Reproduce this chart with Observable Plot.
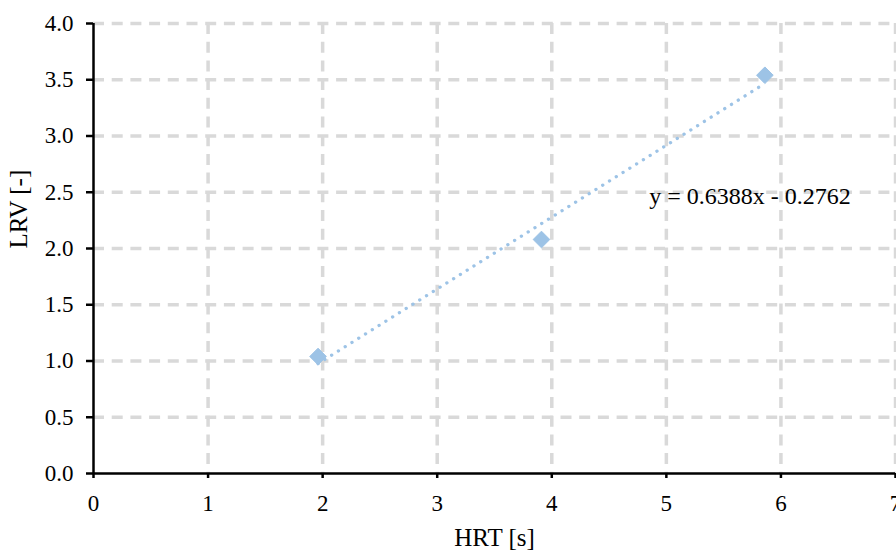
<!DOCTYPE html>
<html>
<head>
<meta charset="utf-8">
<script src="https://cdn.jsdelivr.net/npm/d3@7"></script>
<script src="https://cdn.jsdelivr.net/npm/@observablehq/plot@0.6"></script>
<style>
  html, body { margin: 0; padding: 0; background: #fff; }
  svg { display: block; }
  #chart svg, #chart svg text { font-family: "Liberation Serif", "Times New Roman", serif !important; }
</style>
</head>
<body>
<div id="chart"></div>
<script>
// Data
const hrt = [1.96, 3.91, 5.86];        // HRT [s]
const lrv = [1.04, 2.08, 3.54];        // LRV [-]
const xTicks = [0, 1, 2, 3, 4, 5, 6, 7];
const yTicks = [0, 0.5, 1, 1.5, 2, 2.5, 3, 3.5, 4];
const slope = 0.6388;
const intercept = -0.2762;
const equationLabel = ["y = 0.6388x - 0.2762"];
const xLabel = ["HRT [s]"];
const yLabel = ["LRV [-]"];

const points = hrt.map((x, i) => ({x, y: lrv[i]}));
const xMin = d3.min(hrt), xMax = d3.max(hrt);
const trend = [xMin, xMax].map(x => ({x, y: slope * x + intercept}));

const font = "Liberation Serif, Times New Roman, serif";
const blue = "#9dc3e6";

const chart = Plot.plot({
  width: 896,
  height: 554,
  marginLeft: 93,
  marginRight: 1,
  marginTop: 23,
  marginBottom: 81,
  style: "font-family: 'Liberation Serif', serif; font-size: 23px; color: #000; background: #fff;",
  x: {domain: [0, 7], ticks: xTicks},
  y: {domain: [0, 4], ticks: yTicks},
  marks: [
    Plot.gridX(xTicks.filter(d => d > 0), {stroke: "#d9d9d9", strokeOpacity: 1, strokeWidth: 3.5, strokeDasharray: "11,7.7"}),
    Plot.gridY(yTicks.filter(d => d > 0), {stroke: "#d9d9d9", strokeOpacity: 1, strokeWidth: 3.5, strokeDasharray: "11,7.7"}),
    Plot.line(trend, {x: "x", y: "y", stroke: blue, strokeWidth: 3.3, strokeDasharray: "0.1,7.9", strokeLinecap: "round"}),
    Plot.dot(points, {x: "x", y: "y", symbol: "diamond2", r: 7.5, fill: blue, stroke: blue, strokeWidth: 1}),
    Plot.text(equationLabel, {x: 4.85, y: 2.46, text: d => d, textAnchor: "start", fontSize: 24, fontFamily: font, fill: "#000"}),
    Plot.ruleX([0], {stroke: "#000", strokeWidth: 2.5}),
    Plot.ruleY([0], {stroke: "#000", strokeWidth: 2.5}),
    Plot.axisX(xTicks, {tickSize: 5, tickPadding: 16, strokeWidth: 2.5, stroke: "#000", label: null, fontSize: 23, fontFamily: font, tickFormat: d3.format("d")}),
    Plot.axisY(yTicks, {tickSize: 7, tickPadding: 13, strokeWidth: 2.5, stroke: "#000", label: null, fontSize: 23, fontFamily: font, tickFormat: d3.format(".1f")}),
    Plot.text(xLabel, {frameAnchor: "bottom", dy: 72, text: d => d, fontSize: 25, fontFamily: font, fill: "#000"}),
    Plot.text(yLabel, {frameAnchor: "left", dx: -75, rotate: -90, text: d => d, fontSize: 25, fontFamily: font, fill: "#000"})
  ]
});
document.getElementById("chart").appendChild(chart);
</script>
</body>
</html>
